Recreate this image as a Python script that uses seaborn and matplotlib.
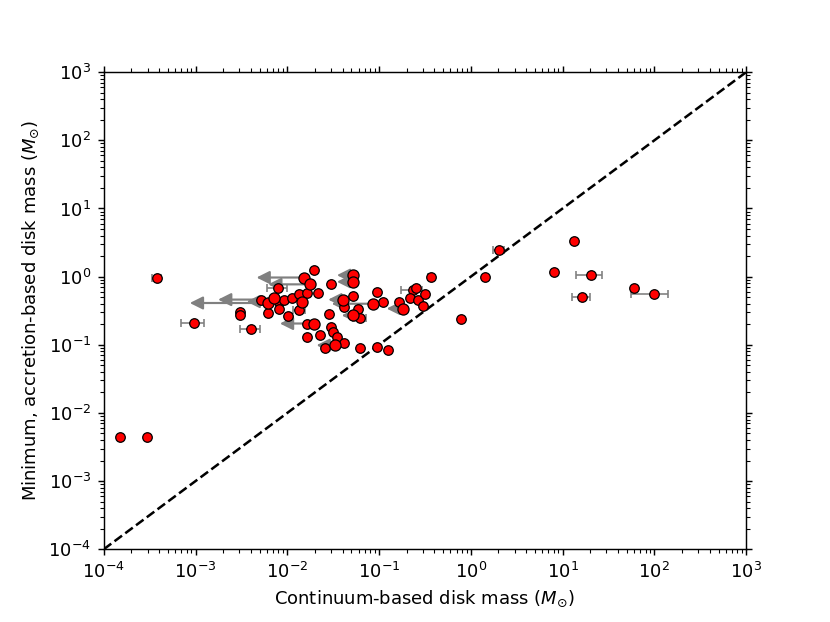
"""
Continuum-based vs minimum accretion-based disk masses.
Red points, gray x-error bars, gray upper-limit arrows, 1:1 dashed line.
"""

import numpy as np
import pandas as pd
import matplotlib
matplotlib.use("Agg")
import matplotlib.pyplot as plt
import seaborn as sns

# --- small markers -------------------------------------------------------
SMALL_X = [7.96e-3, 5.12e-3, 8.15e-3, 8.15e-3, 6.13e-3, 3.06e-3, 3.06e-3,
           9.7e-4, 4.07e-3, 3.79e-4, 1.49e-4, 2.96e-4, 0.0194, 0.0299,
           0.0522, 9.18e-3, 0.0113, 0.0135, 0.0165, 0.0217, 0.0135, 0.0414,
           0.0593, 0.0618, 0.0286, 0.0102, 0.0162, 0.0299, 0.0316, 0.0344,
           0.0226, 0.0166, 0.0414, 0.0257, 0.0618, 0.368, 0.0942, 0.111,
           0.166, 0.232, 0.252, 0.217, 0.264, 0.316, 0.303, 0.0955, 0.124,
           0.79, 1.43, 2.03, 13.4, 8.07, 20.5, 16.2, 59.7, 98.0]
SMALL_Y = [0.67, 0.46, 0.43, 0.34, 0.29, 0.30, 0.27,
           0.21, 0.168, 0.95, 0.0045, 0.0045, 1.24, 0.78,
           0.52, 0.46, 0.49, 0.55, 0.58, 0.57, 0.32, 0.36,
           0.34, 0.25, 0.28, 0.26, 0.205, 0.183, 0.155, 0.13,
           0.138, 0.13, 0.106, 0.090, 0.090, 0.99, 0.585, 0.42,
           0.43, 0.63, 0.67, 0.49, 0.46, 0.55, 0.37, 0.093, 0.085,
           0.24, 0.99, 2.43, 3.33, 1.17, 1.07, 0.50, 0.69, 0.56]

# --- larger markers ------------------------------------------------------
LARGE_X = [6.13e-3, 7.19e-3, 0.0153, 0.0176, 0.0522, 0.0522, 0.0145,
           0.0407, 0.0522, 0.0196, 0.033, 0.0863, 0.184]
LARGE_Y = [0.41, 0.49, 0.97, 0.77, 1.05, 0.84, 0.43,
           0.46, 0.27, 0.20, 0.0985, 0.40, 0.34]

# --- x error bars --------------------------------------------------------
ERR_X = [7.96e-3, 9.7e-4, 4.07e-3, 3.79e-4, 0.0135, 0.0618, 0.368, 0.232,
         2.03, 20.5, 16.2, 98.0]
ERR_Y = [0.67, 0.21, 0.168, 0.95, 0.32, 0.25, 0.99, 0.63,
         2.43, 1.07, 0.50, 0.56]
ERR_DX = [2.0e-3, 2.8e-4, 1.0e-3, 0.4e-4, 2.0e-3, 0.01, 0.03, 0.06,
          0.27, 6.5, 3.5, 43.0]

# --- upper-limit arrows (tail x -> head x at y) --------------------------
ARROW_TAIL = [0.0153, 0.0176, 5.12e-3, 6.13e-3, 8.15e-3, 0.0162, 0.033,
              0.0407, 0.0863, 0.0522, 0.0522, 0.0522, 0.184]
ARROW_HEAD = [4.62e-3, 6.19e-3, 1.76e-3, 8.66e-4, 3.60e-3, 8.30e-3, 0.0208,
              0.0279, 0.0304, 0.0347, 0.0347, 0.0391, 0.121]
ARROW_Y = [0.97, 0.77, 0.46, 0.41, 0.43, 0.205, 0.0985,
           0.46, 0.40, 1.05, 0.84, 0.27, 0.34]

LIMITS = [1e-4, 1e3]


def main():
    plt.rcParams["font.family"] = ["DejaVu Sans"]
    plt.rcParams["mathtext.fontset"] = "dejavusans"

    fig, ax = plt.subplots(figsize=(830 / 130, 622 / 130), dpi=130)
    fig.subplots_adjust(left=0.125, right=0.899, top=0.884, bottom=0.117)

    ax.set_xscale("log")
    ax.set_yscale("log")

    # 1:1 line
    ax.plot(LIMITS, LIMITS, ls="--", color="black", lw=1.4, zorder=2)

    ax.errorbar(ERR_X, ERR_Y, xerr=ERR_DX, fmt="none", ecolor="gray",
                elinewidth=0.9, capsize=2, capthick=0.9, zorder=1)

    for tail, head, y in zip(ARROW_TAIL, ARROW_HEAD, ARROW_Y):
        ax.annotate("", xy=(head, y), xytext=(tail, y),
                    arrowprops=dict(arrowstyle="-|>,head_length=0.6,head_width=0.3",
                                    color="gray", lw=1.2, shrinkA=0, shrinkB=0,
                                    mutation_scale=10),
                    zorder=1)

    small = pd.DataFrame({"x": SMALL_X, "y": SMALL_Y})
    large = pd.DataFrame({"x": LARGE_X, "y": LARGE_Y})
    sns.scatterplot(data=small, x="x", y="y", ax=ax, color="red",
                    edgecolor="black", linewidth=0.7, s=28, zorder=3)
    sns.scatterplot(data=large, x="x", y="y", ax=ax, color="red",
                    edgecolor="black", linewidth=0.7, s=38, zorder=3)

    ax.set_xlim(*LIMITS)
    ax.set_ylim(*LIMITS)
    ax.tick_params(which="both", direction="out", top=True, right=True)
    ax.set_xlabel(r"Continuum-based disk mass ($M_{\odot}$)")
    ax.set_ylabel(r"Minimum, accretion-based disk mass ($M_{\odot}$)")

    fig.savefig("out.png", dpi=130)
    plt.close(fig)


if __name__ == "__main__":
    main()
